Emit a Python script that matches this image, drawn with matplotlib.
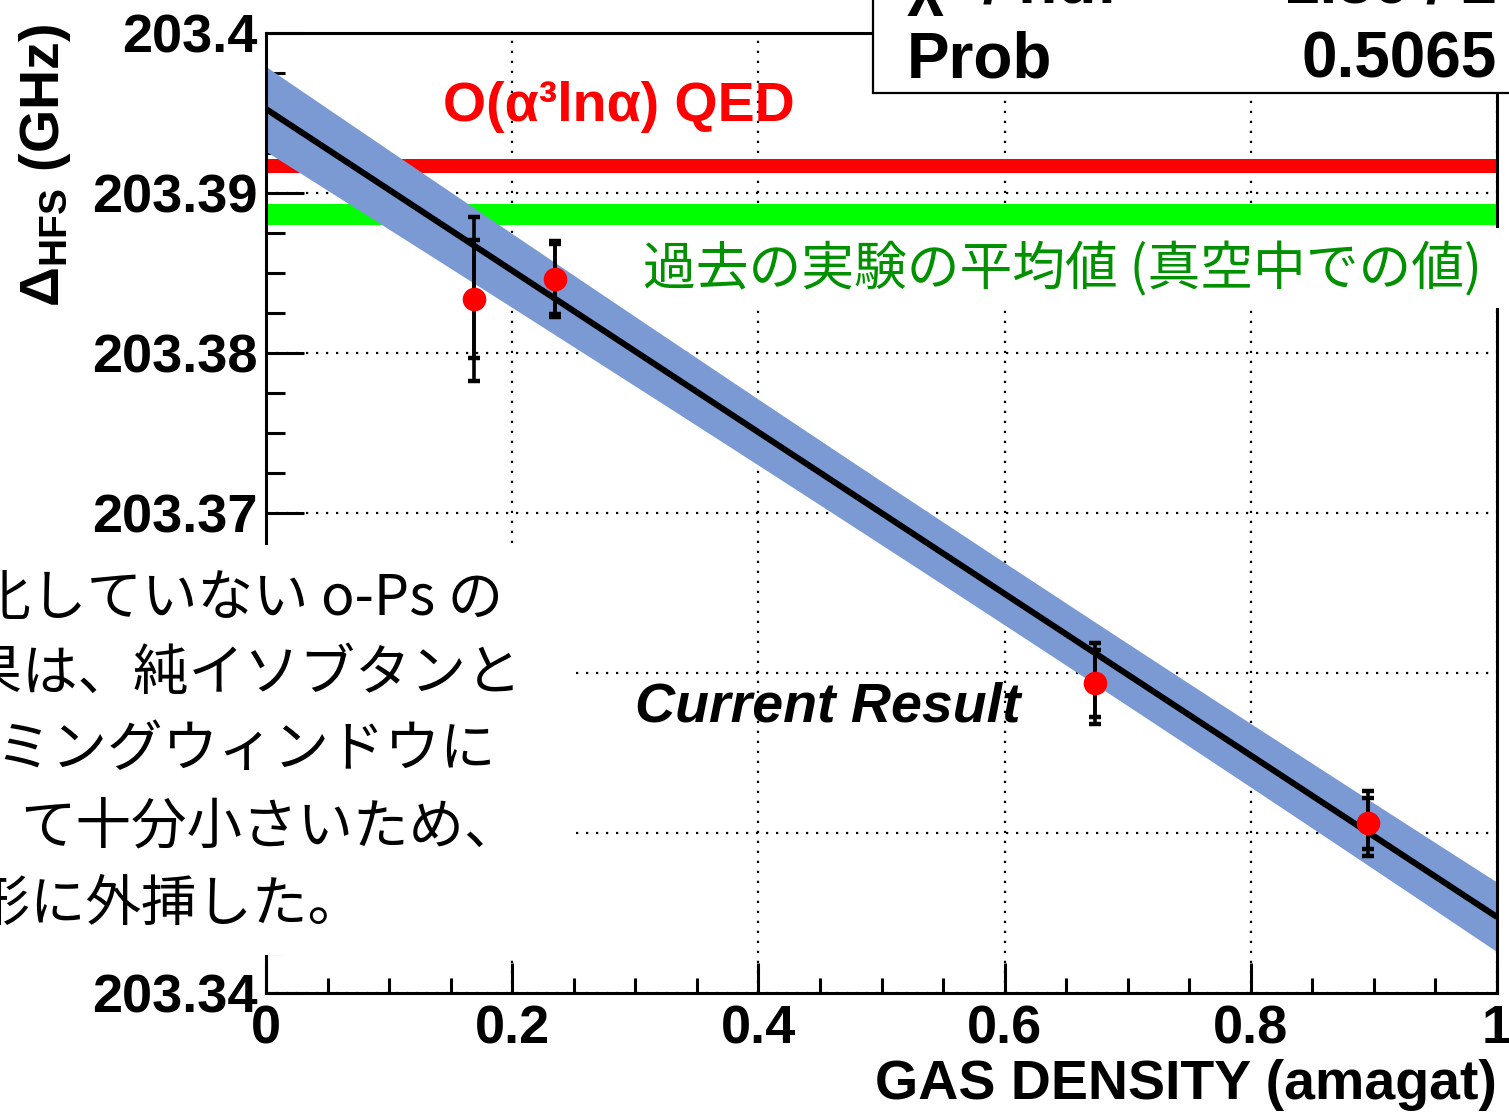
import numpy as np
import matplotlib
matplotlib.use('Agg')
import matplotlib.pyplot as plt
from matplotlib.patches import Rectangle
from matplotlib.ticker import MultipleLocator, FixedLocator, FuncFormatter

# ---------------- data ----------------
density = [0.169, 0.2348, 0.6737, 0.8949]
hfs = [203.38338, 203.38463, 203.35936, 203.35061]
err_total = [0.0051, 0.0024, 0.00253, 0.00204]
err_stat = [0.0037, 0.0022, 0.0021, 0.0016]

fit_intercept = 203.39525
fit_slope = -0.0505
fit_sigma_intercept = 0.00265
fit_sigma_slope = 0.00278
fit_corr = -0.68

qed_value = 203.39169
qed_err = 0.00041
exp_avg_value = 203.38865
exp_avg_err = 0.00067

x_ticks = [0, 0.2, 0.4, 0.6, 0.8, 1]
y_ticks = [203.34, 203.35, 203.36, 203.37, 203.38, 203.39, 203.4]

stats_labels = ['χ² / ndf', 'Prob']
stats_values = ['1.36 / 2', '0.5065']

note_lines = ['熱化していない o-Ps の', '結果は、純イソブタンと', 'タイミングウィンドウに',
              'て十分小さいため、', '線形に外挿した。']
note_x_px = [-80, -88, -114, 20, -80]
note_y_px = [600, 674, 750, 828, 905]

qed_label = 'O(α³lnα) QED'
exp_label = '過去の実験の平均値 (真空中での値)'
current_label = 'Current Result'
x_label = 'GAS DENSITY (amagat)'
y_label = r'$\Delta_{\mathbf{HFS}}\ \mathbf{(GHz)}$'

# ---------------- style ----------------
W, H = 1509, 1117
plt.rcParams['font.family'] = ['Liberation Sans', 'DejaVu Sans']
plt.rcParams['font.weight'] = 'bold'
plt.rcParams['mathtext.fontset'] = 'custom'
plt.rcParams['mathtext.rm'] = 'Liberation Sans'
plt.rcParams['mathtext.bf'] = 'Liberation Sans:bold'
plt.rcParams['mathtext.it'] = 'Liberation Sans'
plt.rcParams['mathtext.default'] = 'rm'

def fx(px):
    return px / W

def fy(py):
    return 1 - py / H

fig = plt.figure(figsize=(W / 100, H / 100), dpi=100)
ax = fig.add_axes([fx(266), fy(993), (1497 - 266) / W, (993 - 33) / H])
ax.set_xlim(0, 1)
ax.set_ylim(203.34, 203.4)

# reference bands
ax.axhspan(qed_value - qed_err, qed_value + qed_err, color='#ff0000', lw=0, zorder=1)
ax.axhspan(exp_avg_value - exp_avg_err, exp_avg_value + exp_avg_err, color='#00ff00', lw=0, zorder=1)

# fit band and line
xs = np.linspace(0, 1, 300)
fit_y = fit_intercept + fit_slope * xs
hw = np.sqrt(fit_sigma_intercept ** 2
             + 2 * xs * fit_corr * fit_sigma_intercept * fit_sigma_slope
             + xs ** 2 * fit_sigma_slope ** 2)
ax.fill_between(xs, fit_y - hw, fit_y + hw, color='#7b99d3', lw=0, zorder=2)
ax.plot(xs, fit_y, color='black', lw=4.4, zorder=3, solid_capstyle='butt')

# data points
ax.errorbar(density, hfs, yerr=err_total, fmt='none', ecolor='black', elinewidth=2.6,
            capsize=4, capthick=3.2, zorder=4)
ax.errorbar(density, hfs, yerr=err_stat, fmt='none', ecolor='black', elinewidth=2.6,
            capsize=4, capthick=3.2, zorder=4)
ax.plot(density, hfs, 'o', color='#ff0000', markersize=17, markeredgewidth=0, zorder=5)

# axes styling
ax.set_axisbelow(True)
ax.grid(True, which='major', color='black', linestyle=(0, (1, 3.5)), lw=1.6)
ax.xaxis.set_major_locator(FixedLocator(x_ticks))
ax.yaxis.set_major_locator(FixedLocator(y_ticks))
ax.xaxis.set_minor_locator(MultipleLocator(0.05))
ax.yaxis.set_minor_locator(MultipleLocator(0.0025))
fmt = FuncFormatter(lambda v, p: '%g' % round(v, 6))
ax.xaxis.set_major_formatter(fmt)
ax.yaxis.set_major_formatter(fmt)
ax.tick_params(axis='x', which='major', direction='in', length=21.6, width=2.2,
               labelsize=39, pad=8, top=False)
ax.tick_params(axis='x', which='minor', direction='in', length=10.8, width=2.2, top=False)
ax.tick_params(axis='y', which='major', direction='in', length=27, width=2.2,
               labelsize=39, pad=6, right=False)
ax.tick_params(axis='y', which='minor', direction='in', length=13.5, width=2.2, right=False)
for lab in ax.get_xticklabels() + ax.get_yticklabels():
    lab.set_fontweight('bold')
for s in ax.spines.values():
    s.set_linewidth(2.2)

# axis labels
fig.text(fx(1497), fy(1085), x_label, ha='right', va='center', fontsize=40, fontweight='bold')
fig.text(fx(45), fy(165), y_label, ha='center', va='center', rotation=90,
         fontsize=40, fontweight='normal')

# annotations in plot
fig.text(fx(443), fy(107), qed_label, ha='left', va='center', fontsize=40,
         fontweight='bold', color='#ff0000', zorder=6)
fig.patches.append(Rectangle((fx(630), fy(308)), fx(1509) - fx(630), fy(228) - fy(308),
                             transform=fig.transFigure, facecolor='white', edgecolor='none',
                             zorder=5))
fig.text(fx(643), fy(270), exp_label, ha='left', va='center', fontsize=38,
         fontweight='normal', color='#009000',
         family=['Noto Sans CJK JP', 'DejaVu Sans'], zorder=6)
fig.text(fx(635), fy(708), current_label, ha='left', va='center', fontsize=40,
         fontweight='bold', fontstyle='italic', color='black', zorder=6)

# stats box
fig.patches.append(Rectangle((fx(873), fy(93)), fx(1520) - fx(873), fy(-10) - fy(93),
                             transform=fig.transFigure, facecolor='white', edgecolor='black',
                             lw=1.6, zorder=5))
stat_base = [3, 78]
for lab, val, yb in zip(stats_labels, stats_values, stat_base):
    fig.text(fx(907), fy(yb), lab, ha='left', va='baseline', fontsize=46,
             fontweight='bold', zorder=6)
    fig.text(fx(1497), fy(yb), val, ha='right', va='baseline', fontsize=46,
             fontweight='bold', zorder=6)

# overlaid note box on the left
fig.patches.append(Rectangle((fx(0), fy(955)), fx(575), fy(545) - fy(955),
                             transform=fig.transFigure, facecolor='white', edgecolor='none',
                             zorder=5))
for line, xp, yp in zip(note_lines, note_x_px, note_y_px):
    fig.text(fx(xp), fy(yp), line, ha='left', va='center', fontsize=40, fontweight='normal',
             family=['Noto Sans CJK JP', 'DejaVu Sans'], color='black', zorder=6)

fig.savefig('out.png', dpi=100)
